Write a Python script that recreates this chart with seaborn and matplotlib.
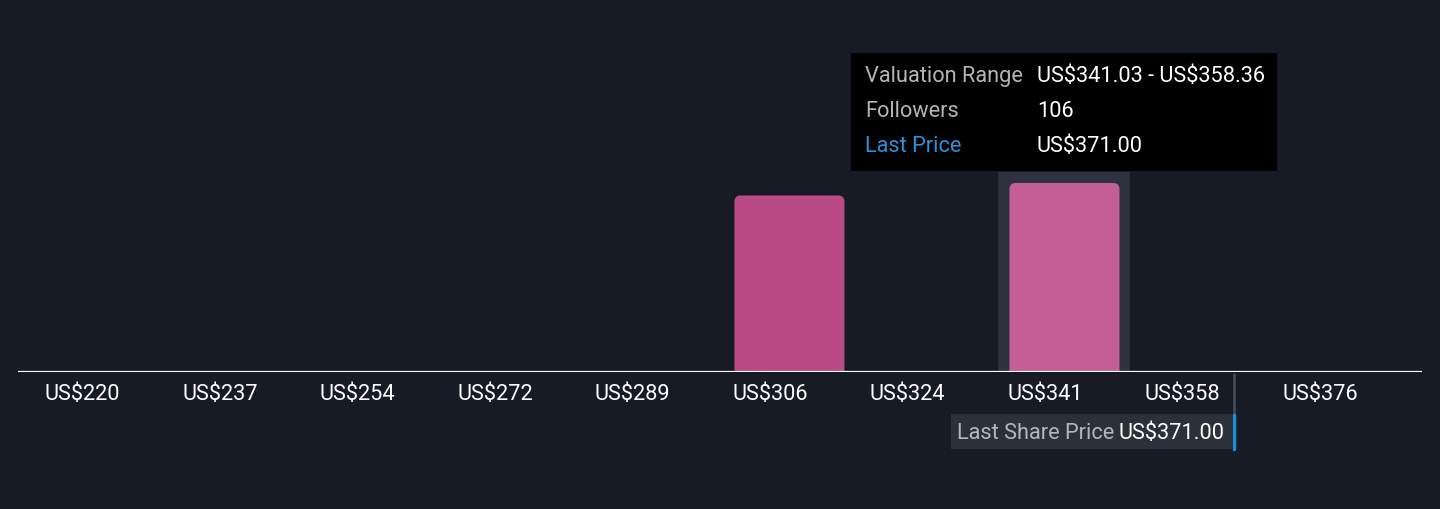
import numpy as np
import pandas as pd
import seaborn as sns
import matplotlib.pyplot as plt
from matplotlib.patches import FancyBboxPatch, Rectangle
from matplotlib.transforms import blended_transform_factory

# histogram of fair value estimates
bin_labels = ["US$220", "US$237", "US$254", "US$272", "US$289",
              "US$306", "US$324", "US$341", "US$358", "US$376"]
followers = [0, 0, 0, 0, 0, 99, 0, 106, 0, 0]
bin_start = 219.72
bin_width = 17.33
highlight_bin = 7
last_price = 371.00

tooltip_rows = [("Valuation Range", "US$341.03 - US$358.36"),
                ("Followers", "106"),
                ("Last Price", "US$371.00")]

BG = "#161b26"
BAR = "#b94a86"
BAR_HI = "#c45e97"
FS = 15.7

sns.set_theme(style="white")
plt.rcParams['font.family'] = ['Roboto', 'DejaVu Sans']

W, H = 1440, 509
fig = plt.figure(figsize=(W / 100, H / 100), dpi=100, facecolor=BG)
ax = fig.add_axes([18 / W, (H - 372) / H, 1404 / W, 342 / H])
ax.set_facecolor(BG)

df = pd.DataFrame({
    "bin": bin_labels,
    "followers": followers,
    "hi": ["y" if i == highlight_bin else "n" for i in range(len(bin_labels))],
})

ymax = 191.8
xlim = (-0.61, 9.60)

# highlight column behind the hovered bin
ax.add_patch(Rectangle((highlight_bin - 0.48, 0), 0.96, followers[highlight_bin] * 1.06,
                       facecolor="#2e323d", edgecolor="none", zorder=0))

sns.barplot(data=df, x="bin", y="followers", hue="hi",
            palette={"y": BAR_HI, "n": BAR}, width=0.8, saturation=1,
            legend=False, ax=ax, zorder=2)
ax.set_xlim(*xlim)
ax.set_ylim(0, ymax)

# swap square bars for rounded-top ones
px_x = 1404 / (xlim[1] - xlim[0])
px_y = 342 / ymax
for p in list(ax.patches):
    if not isinstance(p, Rectangle) or p.get_zorder() == 0:
        continue
    h = p.get_height()
    if h <= 0:
        p.remove()
        continue
    fb = FancyBboxPatch((p.get_x(), -5), p.get_width(), h + 5,
                        boxstyle="round,pad=0,rounding_size=0.045",
                        mutation_aspect=px_x / px_y,
                        facecolor=p.get_facecolor(), edgecolor="none", zorder=2)
    p.remove()
    ax.add_patch(fb)

for s in ax.spines.values():
    s.set_visible(False)
ax.set_xlabel("")
ax.set_ylabel("")
ax.set_yticks([])
ax.set_xticks(np.arange(len(bin_labels)) - 0.14)
ax.set_xticklabels(bin_labels, color="white", fontsize=FS)
ax.tick_params(axis="x", length=0, pad=9)
ax.axhline(0, color="white", lw=1.6, zorder=5)

# last price marker below the axis
lp_x = (last_price - bin_start) / bin_width - 0.5
xf = blended_transform_factory(ax.transData, fig.transFigure)
ax.plot([lp_x, lp_x], [(H - 374) / H, (H - 414) / H], color="#454a55", lw=2,
        transform=xf, clip_on=False)
ax.plot([lp_x, lp_x], [(H - 415) / H, (H - 449) / H], color="#1f8fdc", lw=2.5,
        transform=xf, clip_on=False)
lp_px = ax.transData.transform((lp_x, 0))[0]
fig.patches.append(Rectangle(((lp_px - 283) / W, (H - 449) / H), 282 / W, 35 / H,
                             transform=fig.transFigure, facecolor="#2b303b",
                             edgecolor="none"))
fig.text((lp_px - 9) / W, (H - 439) / H, "US$371.00", color="white",
         fontsize=FS, ha="right", va="baseline", parse_math=False)
fig.text((lp_px - 119) / W, (H - 439) / H, "Last Share Price", color="#b4b7bd",
         fontsize=FS, ha="right", va="baseline", parse_math=False)

# tooltip
fig.patches.append(Rectangle((851 / W, (H - 171) / H), 426 / W, 118 / H,
                             transform=fig.transFigure, facecolor="black",
                             edgecolor="none"))
for i, (k, v) in enumerate(tooltip_rows):
    yy = (H - 82 - 35 * i) / H
    fig.text(865 / W, yy, k, color="#2d8fd8" if k == "Last Price" else "#b4b4b4",
             fontsize=FS, va="baseline", parse_math=False)
    fig.text(1037 / W, yy, v, color="white", fontsize=FS, va="baseline",
             parse_math=False)

fig.savefig("out.png", dpi=100, facecolor=BG)
